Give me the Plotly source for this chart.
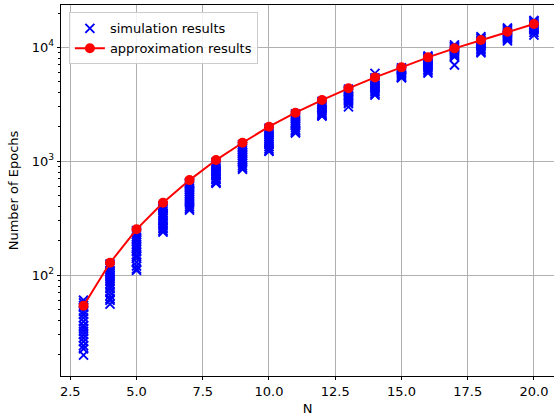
import plotly.graph_objects as go

N_values = list(range(3, 21))

approx_values = [53.7, 128, 252, 431, 682, 1023, 1452, 2010, 2667, 3443,
                 4365, 5445, 6670, 8165, 9800, 11590, 13700, 16030]

sim_n3 = [60, 57, 54, 52, 48, 45, 42, 39, 36, 34, 32, 30, 28, 26, 24, 22.5, 19.8]
sim_n4 = [125, 120, 115, 110, 105, 100, 96, 92, 88, 84, 80, 76, 71, 66, 62, 60, 55.5]
sim_n5 = [245, 235, 225, 215, 205, 195, 185, 178, 170, 160, 150, 145, 140, 130, 120, 113, 110]
sim_n6 = [405, 395, 390, 378, 365, 352, 340, 328, 315, 300, 285, 270, 262, 255, 245, 238]
sim_n7 = [650, 635, 620, 600, 580, 560, 540, 520, 500, 480, 460, 440, 420, 400, 385, 372]
sim_n8 = [980, 950, 920, 890, 860, 830, 800, 775, 750, 720, 700, 690, 660, 650, 640]
sim_n9 = [1400, 1350, 1300, 1250, 1200, 1160, 1120, 1080, 1040, 1000, 960, 920, 880, 850]
sim_n10 = [1950, 1880, 1820, 1760, 1700, 1640, 1580, 1520, 1460, 1400, 1340, 1280, 1240, 1220]
sim_n11 = [2600, 2520, 2440, 2360, 2280, 2200, 2120, 2040, 1960, 1880, 1840, 1800, 1770]
sim_n12 = [3350, 3250, 3150, 3050, 2950, 2850, 2760, 2680, 2600, 2550, 2520, 2490]
sim_n13 = [4300, 4200, 4100, 3950, 3800, 3700, 3600, 3500, 3400, 3300, 3200, 3000]
sim_n14 = [5900, 5400, 5250, 5100, 4950, 4800, 4650, 4500, 4350, 4200, 4050, 3900, 3800]
sim_n15 = [6600, 6450, 6300, 6150, 6000, 5850, 5700, 5550, 5450, 5400]
sim_n16 = [8400, 8200, 8000, 7800, 7600, 7400, 7200, 7000, 6800, 6600, 6400, 6200, 5950]
sim_n17 = [10500, 10200, 9950, 9700, 9500, 9300, 9100, 8900, 8700, 8500, 8250, 7000]
sim_n18 = [12400, 12000, 11600, 11300, 11000, 10700, 10400, 10100, 9800, 9500, 9200, 8950]
sim_n19 = [14800, 14400, 14000, 13600, 13300, 13000, 12700, 12400, 12100, 11800, 11400]
sim_n20 = [17200, 16800, 16400, 16000, 15600, 15200, 14800, 14500, 14200, 13500, 12800]

sim_lists = [sim_n3, sim_n4, sim_n5, sim_n6, sim_n7, sim_n8, sim_n9, sim_n10, sim_n11,
             sim_n12, sim_n13, sim_n14, sim_n15, sim_n16, sim_n17, sim_n18, sim_n19, sim_n20]

x_ticks = [2.5, 5.0, 7.5, 10.0, 12.5, 15.0, 17.5, 20.0]
x_tick_labels = ["2.5", "5.0", "7.5", "10.0", "12.5", "15.0", "17.5", "20.0"]
y_ticks = [100, 1000, 10000]
y_tick_labels = ["10<sup>2</sup>", "10<sup>3</sup>", "10<sup>4</sup>"]

sim_x, sim_y = [], []
for n, vals in zip(N_values, sim_lists):
    sim_x += [n] * len(vals)
    sim_y += vals

minor_vals = [m * 10 ** e for e in range(1, 5) for m in range(2, 10)]

FONT = "DejaVu Sans"

fig = go.Figure()
fig.add_trace(go.Scatter(
    x=sim_x, y=sim_y, mode="markers", name="simulation results",
    marker=dict(symbol="x-thin", size=9, color="blue",
                line=dict(color="blue", width=1.9)),
))
fig.add_trace(go.Scatter(
    x=N_values, y=approx_values, mode="lines+markers", name="approximation results",
    line=dict(color="red", width=2),
    marker=dict(symbol="circle", size=10, color="red"),
))

fig.update_layout(
    width=554, height=416,
    margin=dict(l=61, r=0, t=5, b=40),
    paper_bgcolor="white", plot_bgcolor="white",
    font=dict(family=FONT, size=13, color="black"),
    showlegend=True,
    legend=dict(x=0.016, y=0.98, xanchor="left", yanchor="top",
                bgcolor="rgba(255,255,255,0.85)", bordercolor="#cccccc", borderwidth=1,
                font=dict(family=FONT, size=13), tracegroupgap=0),
)
fig.update_xaxes(
    range=[2.15, 20.757], tickvals=x_ticks, ticktext=x_tick_labels,
    ticks="outside", ticklen=3.5, tickwidth=0.8, tickcolor="black",
    showline=True, linecolor="black", linewidth=0.8, mirror=True,
    showgrid=True, gridcolor="#b0b0b0", gridwidth=0.8, zeroline=False,
    title=dict(text="N", font=dict(size=13), standoff=7),
)
fig.update_yaxes(
    type="log", range=[1.113, 4.372], tickvals=y_ticks, ticktext=y_tick_labels,
    ticks="outside", ticklen=3.5, tickwidth=0.8, tickcolor="black",
    showline=True, linecolor="black", linewidth=0.8, mirror=True,
    showgrid=True, gridcolor="#b0b0b0", gridwidth=0.8, zeroline=False,
    minor=dict(tickvals=minor_vals, ticks="outside", ticklen=2, tickwidth=0.6,
               tickcolor="black", showgrid=False),
    title=dict(text="Number of Epochs", font=dict(size=13), standoff=10),
)

fig.write_html("out.html", config={"displayModeBar": False},
               post_script="document.body.style.margin='0';document.body.style.overflow='hidden';")
